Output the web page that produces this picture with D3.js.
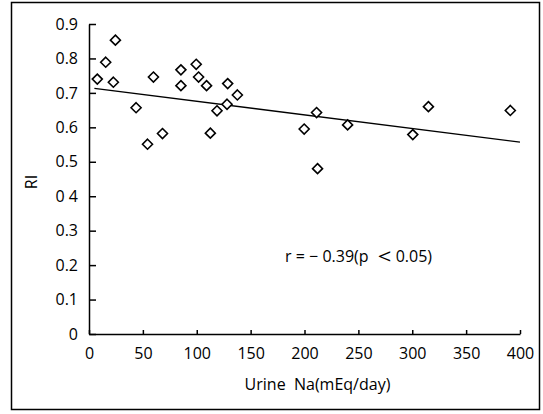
<!DOCTYPE html>
<html>
<head>
<meta charset="utf-8">
<script src="https://cdn.jsdelivr.net/npm/d3@7"></script>
<style>
  body { margin: 0; background: #fff; }
  text { font-family: "Open Sans", "Noto Sans", sans-serif; fill: #000; }
</style>
</head>
<body>
<svg id="chart" width="543" height="414"></svg>
<script>
// values
let urineNa = [7.7, 15.5, 24.5, 22.6, 43.7, 59.8, 54.3, 68.2, 85.3, 85.3, 99.5, 101.7, 109.1,
    112.6, 118.8, 128.7, 128.1, 137.7, 199.7, 211.2, 212.1, 240, 300.5, 315, 391];
let riValues = [0.740, 0.789, 0.853, 0.731, 0.657, 0.746, 0.551, 0.582, 0.767, 0.721, 0.783, 0.746, 0.721,
    0.583, 0.648, 0.727, 0.667, 0.694, 0.595, 0.643, 0.480, 0.607, 0.579, 0.660, 0.649];
let xTicks = [0, 50, 100, 150, 200, 250, 300, 350, 400];
let yTicks = [0, 0.1, 0.2, 0.3, 0.4, 0.5, 0.6, 0.7, 0.8, 0.9];
let yTickLabels = ["0", "0.1", "0.2", "0.3", "0 4", "0.5", "0.6", "0.7", "0.8", "0.9"];
let fitLine = [[5, 0.713], [400, 0.557]];
let noteParts = ["r = \u2212 0.39(p ", "\uFF1C", "0.05)"];

function drawChart() {
    let margin = {top: 24, right: 23, bottom: 80, left: 89};
    let width = 543 - margin.left - margin.right;
    let height = 414 - margin.top - margin.bottom;

    let svg = d3.select("#chart");

    //frame
    svg.append("rect")
        .attr("x", 11.5)
        .attr("y", 2.5)
        .attr("width", 528)
        .attr("height", 407)
        .style("fill", "none")
        .style("stroke", "#000")
        .style("stroke-width", 1.5);

    let g = svg.append("g")
        .attr("transform", "translate(" + margin.left + "," + margin.top + ")");

    let x = d3.scaleLinear().domain([0, 400]).range([0, width]);
    let y = d3.scaleLinear().domain([0, 0.9]).range([height, 0]);

    let xAxis = g.append("g")
        .attr("transform", "translate(0," + height + ")")
        .call(d3.axisBottom(x).tickValues(xTicks).tickSizeInner(-4).tickSizeOuter(0).tickPadding(14));

    let yAxis = g.append("g")
        .call(d3.axisLeft(y).tickValues(yTicks).tickSizeInner(-7).tickSizeOuter(0).tickPadding(11)
            .tickFormat((d, i) => yTickLabels[i]));

    [xAxis, yAxis].forEach(function(a) {
        a.selectAll("path, line").style("stroke", "#000").style("stroke-width", 1.5);
        a.selectAll("text").style("font-size", "16px").style("font-family", "'Open Sans', sans-serif");
    });

    //regression line
    g.append("path")
        .datum(fitLine)
        .attr("d", d3.line().x(d => x(d[0])).y(d => y(d[1])))
        .style("fill", "none")
        .style("stroke", "#000")
        .style("stroke-width", 1.4);

    //diamonds
    let points = urineNa.map((d, i) => [d, riValues[i]]);
    g.selectAll(".pt")
        .data(points)
        .enter()
        .append("path")
        .attr("class", "pt")
        .attr("transform", d => "translate(" + x(d[0]) + "," + y(d[1]) + ")")
        .attr("d", "M0,-5L5,0L0,5L-5,0Z")
        .style("fill", "#fff")
        .style("stroke", "#000")
        .style("stroke-width", 1.6);

    //labels
    g.append("text")
        .attr("transform", "translate(" + (-52) + "," + (height / 2 + 3) + ") rotate(-90)")
        .style("text-anchor", "middle")
        .style("font-size", "16px")
        .text("RI");

    g.append("text")
        .attr("x", x(200) + 13)
        .attr("y", height + 56)
        .style("text-anchor", "middle")
        .style("font-size", "16px")
        .style("white-space", "pre")
        .text("Urine  Na(mEq/day)");

    let note = g.append("text")
        .attr("x", x(182))
        .attr("y", y(0.21))
        .style("font-size", "16px")
        .style("white-space", "pre");
    note.append("tspan").text(noteParts[0]);
    note.append("tspan").style("font-size", "23px").attr("dy", 1).text(noteParts[1]);
    note.append("tspan").attr("dy", -1).text(noteParts[2]);
}

drawChart();
</script>
</body>
</html>
